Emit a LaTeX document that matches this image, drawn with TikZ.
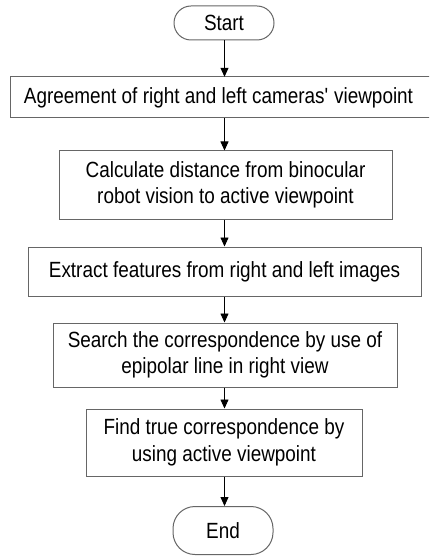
\documentclass[tikz,border=0pt]{standalone}
\usepackage{fontspec}
\setmainfont{Liberation Sans}[FakeStretch=0.86]
\usetikzlibrary{arrows.meta}
\begin{document}
\begin{tikzpicture}[x=1pt,y=1pt,
  txt/.style={inner sep=0pt, align=center, font=\fontsize{22}{26.5}\selectfont},
  box/.style={txt, draw=black!60, line width=1pt},
  plain/.style={txt, draw=none},
  boxline/.style={draw=black!60, line width=1pt},
  flow/.style={-{Triangle[length=9pt,width=8pt]}, line width=0.8pt, draw=black}]
\useasboundingbox (0,0) rectangle (429,-556);
\clip (0,0) rectangle (429,-556);
\fill[white] (0,0) rectangle (429,-556);
\node[box, rounded corners=17pt, minimum width=100pt, minimum height=34pt] (start) at (224,-23) {Start};
\draw[boxline] (10,-77) rectangle (440,-118);
\node[plain, minimum width=417pt, minimum height=41pt] (b1) at (218.5,-97.5) {Agreement of right and left cameras\textquotesingle{} viewpoint};
\node[box, minimum width=333pt, minimum height=68pt] (b2) at (225.5,-185) {Calculate distance from binocular\\robot vision to active viewpoint};
\node[box, minimum width=393pt, minimum height=49pt] (b3) at (224.5,-271.5) {Extract features from right and left images};
\node[box, minimum width=344pt, minimum height=64pt] (b4) at (225,-355) {Search the correspondence by use of\\epipolar line in right view};
\node[box, minimum width=276pt, minimum height=67pt] (b5) at (224,-442.5) {Find true correspondence by\\using active viewpoint};
\node[box, rounded corners=22pt, minimum width=100pt, minimum height=48pt] (end) at (223,-530.5) {End};
\coordinate (ax) at (224.5,0);
\draw[flow] (ax |- start.south) -- (ax |- b1.north);
\draw[flow] (ax |- b1.south) -- (ax |- b2.north);
\draw[flow] (ax |- b2.south) -- (ax |- b3.north);
\draw[flow] (ax |- b3.south) -- (ax |- b4.north);
\draw[flow] (ax |- b4.south) -- (ax |- b5.north);
\draw[flow] (ax |- b5.south) -- (ax |- end.north);
\end{tikzpicture}
\end{document}
